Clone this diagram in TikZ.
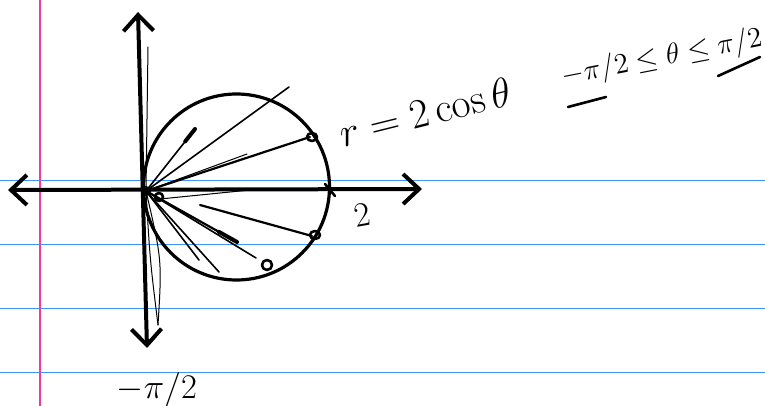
\documentclass[tikz,border=0pt]{standalone}
\usepackage{amsmath,amssymb}
\usepackage{xcolor}
\usetikzlibrary{arrows.meta,positioning,calc}
\definecolor{ruleblue}{RGB}{60,150,255}
\definecolor{marginpink}{RGB}{240,60,160}

\begin{document}
\begin{tikzpicture}[x=0.5pt,y=-0.5pt,
 hand/.style={line cap=round,line join=round},
 axis/.style={hand,line width=2pt,{Straight Barb[length=8pt,width=15pt]}-{Straight Barb[length=8pt,width=15pt]}},
 ray/.style={hand,line width=0.8pt},
 dotmark/.style={hand,line width=1.3pt},
 label/.style={inner sep=0pt,font=\LARGE}]
% paper
\fill[white] (0,0) rectangle (765,406);
\useasboundingbox (0,0) rectangle (765,406);
\foreach \y in {180.5,244.5,308.5,372.5}
  \draw[ruleblue,line width=0.7pt] (0,\y) -- (765,\y);
\draw[marginpink,line width=0.8pt] (40,0) -- (40,406);
% axes
\coordinate (O) at (146,191);
\coordinate (xl) at (8,190);
\coordinate (xr) at (422,189);
\coordinate (yt) at (138,12);
\coordinate (yb) at (147,348);
\draw[axis] (xl) -- (xr);
\draw[axis] (yb) -- (yt);
% circle r = 2cos(theta)
\coordinate (C) at (236.5,187);
\draw[hand,line width=1.6pt] (C) circle[radius=93];
% rays
\coordinate (r1) at (289,87);
\coordinate (r2) at (195,129);
\coordinate (r3) at (310,137);
\coordinate (r4) at (247,154);
\coordinate (r5a) at (160,199);
\coordinate (r5) at (250,190);
\coordinate (r6a) at (200,205);
\coordinate (r6) at (312,236);
\coordinate (r7) at (237,242);
\coordinate (r8) at (256,258);
\coordinate (r9) at (219,272);
\coordinate (r10) at (199,260);
\coordinate (r11) at (158,325);
\coordinate (r12) at (148,47);
\draw[ray] (O) -- (r1);
\draw[ray] (O) -- (r2);
\draw[line width=2pt,line cap=round] ($(O)!0.8!(r2)$) -- (r2);
\draw[ray,line width=1.1pt] (O) -- (r3);
\draw[ray,line width=0.5pt] (O) -- (r4);
\draw[ray,line width=0.5pt] (r5a) -- (r5);
\draw[ray,line width=1.1pt] (r6a) -- (r6);
\draw[ray,line width=1.1pt] (O) -- (r7);
\draw[line width=2pt,line cap=round] ($(O)!0.8!(r7)$) -- (r7);
\draw[ray] (O) -- (r8);
\draw[ray] (O) -- (r9);
\draw[ray] (O) -- (r10);
\draw[ray,line width=0.5pt] (O) .. controls (162,260) .. (r11);
\draw[ray,line width=0.5pt] (O) .. controls (150,260) .. (r11);
\draw[ray,line width=0.5pt] (O) -- (r12);
% points on the curve
\draw[dotmark] (312,137) ellipse[x radius=5,y radius=4];
\draw[dotmark] (315,235) ellipse[x radius=5,y radius=4];
\draw[dotmark] (267,265) ellipse[x radius=5,y radius=5];
\draw[dotmark] (325,184) -- (335,196);
\draw[dotmark] (159,197) circle[radius=4];
\fill (O) circle[radius=5];
% labels
\node[label,font=\huge,rotate=14] (eq) at (425,112) {$r=2\cos\theta$};
\node[label,font=\Large,rotate=11] (range) at (662,58) {$-\pi/2\le\theta\le\pi/2$};
\draw[dotmark] (568,107) -- (606,97);
\draw[dotmark] (718,76) -- (760,57);
\node[label,rotate=10] (two) at (362,215) {$2$};
\node[label] (negpi) at (157,390) {$-\pi/2$};
\end{tikzpicture}
\end{document}
